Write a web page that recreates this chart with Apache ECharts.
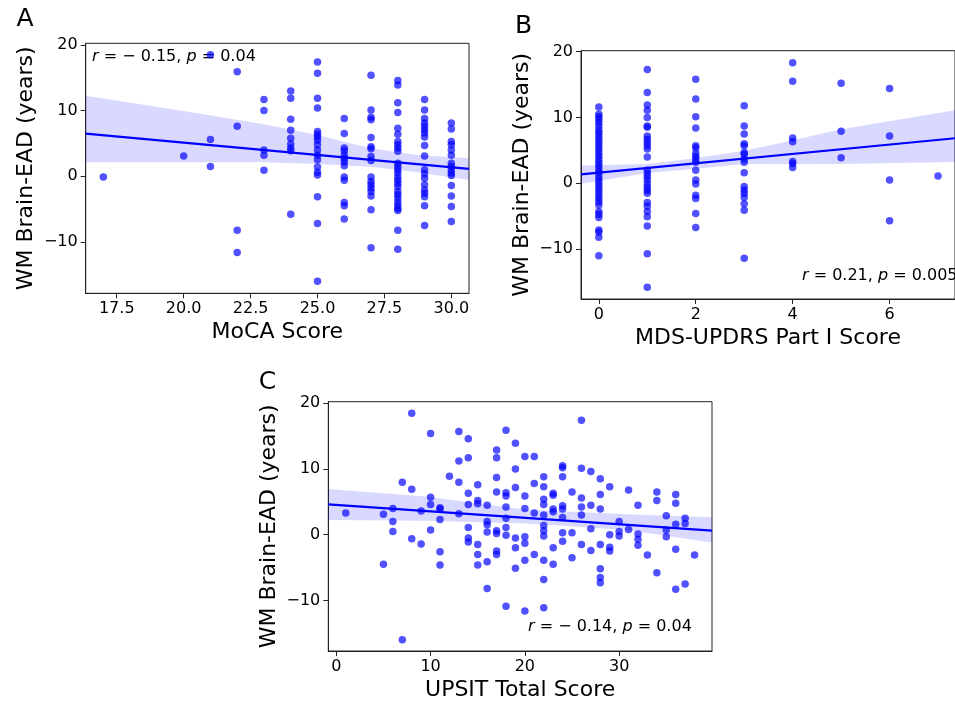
<!DOCTYPE html>
<html>
<head>
<meta charset="utf-8">
<script src="https://cdn.jsdelivr.net/npm/echarts@6/dist/echarts.min.js"></script>
<style>html,body{margin:0;padding:0;background:#fff;}#c{width:955px;height:702px;}</style>
</head>
<body>
<div id="c"></div>
<script>
// ---------- Panel A: MoCA ----------
const mocaX = [17, 20, 21,21,21, 22,22,22,22, 23,23,23,23,23,
  24,24,24,24,24,24,24,24,24,
  25,25,25,25,25,25,25,25,25,25,25,25,25,25,25,25,25,25,
  26,26,26,26,26,26,26,26,26,26,26,26,26,
  27,27,27,27,27,27,27,27,27,27,27,27,27,27,27,27,27,
  28,28,28,28,28,28,28,28,28,28,28,28,28,28,28,28,28,28,28,28,28,28,28,28,28,28,28,
  29,29,29,29,29,29,29,29,29,29,29,29,29,29,29,29,29,29,29,
  30,30,30,30,30,30,30,30,30,30,30,30,30,30,30,30,30];
const mocaY = [-0.1, 3.1, 18.5,5.6,1.5, 15.9,7.6,-8.2,-11.6, 11.7,10.0,4.0,3.2,0.9,
  13.0,11.9,8.7,7.0,5.8,4.9,4.3,3.9,-5.8,
  17.4,15.7,11.9,10.4,6.8,6.4,6.0,5.5,4.8,4.0,3.2,2.5,1.4,0.6,0.2,-3.1,-7.2,-16.0,
  8.8,6.5,4.3,3.9,3.2,2.7,2.2,1.6,-0.1,-0.6,-4.0,-4.5,-6.5,
  15.4,10.1,9.0,8.6,5.9,4.5,4.2,3.0,2.4,-0.1,-0.8,-1.3,-1.8,-2.3,-3.0,-5.1,-10.9,
  14.6,9.7,7.3,6.4,5.3,4.8,4.3,3.8,2.0,1.5,1.0,0.5,-0.1,-0.6,-1.1,-1.6,-2.3,-2.8,-3.3,-3.9,-4.4,-4.9,-5.2,-8.2,-11.1,
  13.9,11.2,8.8,8.1,7.6,7.1,6.6,6.0,4.7,3.1,1.0,0.4,-0.3,-1.3,-2.1,-2.6,-3.1,-4.5,-7.5,
  11.7,10.1,8.1,7.2,5.3,4.8,4.0,3.2,2.0,1.5,1.0,0.5,0.1,-1.4,-3.0,-4.6,-6.9];
const fitAX = [16.34, 30.66];
const fitAY = [6.5, 1.12];
const bandAX = [16.34, 20.0, 23.0, 25.0, 27.0, 28.73, 30.66];
const bandAUp = [12.27, 9.94, 7.91, 6.29, 4.26, 3.24, 2.73];
const bandALo = [2.13, 2.13, 2.13, 1.87, 1.46, 0.6, -0.56];
const ticksAX = [17.5, 20.0, 22.5, 25.0, 27.5, 30.0];
const ticksY = [-10, 0, 10, 20];

// ---------- Panel B: MDS-UPDRS Part I ----------
const updrsX = [
  0,0,0,0,0,0,0,0,0,0,0,0,0,0,0,0,0,0,0,0,0,0,0,0,0,0,0,0,0,0,0,0,0,0,0,0,0,
  1,1,1,1,1,1,1,1,1,1,1,1,1,1,1,1,1,1,1,1,1,1,1,1,1,1,1,1,
  2,2,2,2,2,2,2,2,2,2,2,2,2,2,2,2,2,
  3,3,3,3,3,3,3,3,3,3,3,3,3,3,3,3,3,
  4,4,4,4,4,4,4, 5,5,5, 6,6,6,6, 7];
const updrsY = [
  11.6,10.5,10.1,9.7,9.2,8.7,8.1,7.7,7.2,6.7,6.2,5.7,5.2,4.7,4.2,3.7,3.2,2.7,2.2,1.7,1.2,0.7,0.2,-0.3,-0.8,-1.3,-1.8,-2.3,-2.8,-3.3,-4.3,-4.7,-5.2,-7.1,-7.4,-8.2,-11.0,
  17.3,13.8,11.9,11.1,10.0,8.7,8.5,7.2,6.7,6.2,5.7,5.2,4.0,2.0,1.5,1.0,0.5,-0.1,-0.6,-1.1,-1.5,-2.9,-3.5,-4.3,-5.1,-6.5,-10.7,-15.8,
  15.8,12.8,10.1,8.4,5.7,5.4,4.6,4.1,3.7,3.2,2.0,0.5,-0.1,-1.8,-2.3,-4.6,-6.7,
  11.8,8.7,7.5,6.0,5.7,4.7,4.4,3.7,3.2,1.6,-0.5,-1.0,-1.5,-2.1,-3.1,-4.1,-11.4,
  18.3,15.5,6.9,6.3,3.3,3.0,2.4, 15.2,7.9,3.9, 14.4,7.2,0.5,-5.7, 1.1];
const fitBX = [-0.368, 7.35];
const fitBY = [1.35, 6.85];
const bandBX = [-0.368, 1, 2, 3, 4, 5, 7.35];
const bandBUp = [2.7, 2.95, 3.85, 4.95, 6.55, 8.2, 11.1];
const bandBLo = [-0.05, 1.55, 2.2, 2.95, 2.9, 2.95, 3.25];
const ticksBX = [0, 2, 4, 6];

// ---------- Panel C: UPSIT ----------
const upsitX = [1,5,5,6,6,6,7,7,8,8,8,9,9,10,10,10,10,11,11,11,11,11,12,13,13,13,13,
  14,14,14,14,14,14,14,15,15,15,15,15,15,16,16,16,16,16,16,17,17,17,17,17,17,17,17,
  18,18,18,18,18,18,18,18,19,19,19,19,19,19,20,20,20,20,20,20,20,21,21,21,21,
  22,22,22,22,22,22,22,22,22,22,22,23,23,23,23,23,23,24,24,24,24,24,24,24,24,
  25,25,25,26,26,26,26,26,26,27,27,27,27,28,28,28,28,28,28,28,29,29,29,29,
  30,30,30,31,31,32,32,32,32,33,34,34,34,35,35,35,36,36,36,36,36,37,37,37,38];
const upsitY = [3.3,3.1,-4.5,4.0,2.0,0.5,8.0,-16.0,18.5,6.9,-0.6,3.6,-1.4,15.4,5.7,4.6,0.7,4.1,3.9,2.3,-2.6,-4.6,8.9,15.7,11.2,8.0,3.2,
  14.6,11.7,6.3,4.6,1.1,-0.5,-1.1,7.6,5.2,4.7,-1.5,-3.0,-4.6,4.5,2.0,1.5,0.4,-4.1,-8.2,12.9,11.7,8.7,6.5,0.6,0.2,-2.5,-3.0,
  6.4,5.9,4.2,2.5,1.1,-0.1,-10.9,15.9,13.9,10.0,7.2,-0.5,-2.0,-5.1,11.9,5.9,4.0,-0.3,-1.3,-3.9,-11.6,11.9,7.8,3.3,-3.0,
  8.8,7.3,5.4,4.6,3.0,1.4,0.6,-0.2,-3.9,-6.8,-11.1,6.3,6.0,3.9,3.5,-2.0,-4.5,10.5,10.2,8.8,4.4,3.9,2.6,0.3,-1.0,
  6.5,0.3,-3.5,17.4,10.1,5.6,4.2,3.0,-1.5,9.6,4.5,0.9,-2.4,8.5,6.1,3.9,-1.5,-5.2,-6.5,-7.3,7.3,0.0,-1.9,-2.5,
  2.0,0.5,-0.2,6.8,0.8,4.5,0.1,-0.7,-1.6,-3.1,6.5,5.2,-5.8,2.9,0.7,-0.3,6.1,4.8,1.6,-2.2,-8.3,2.5,1.7,-7.5,-3.1];
const fitCX = [-0.85, 39.85];
const fitCY = [4.62, 0.61];
const bandCX = [-0.85, 9.5, 20.2, 30.8, 39.85];
const bandCUp = [6.96, 5.8, 3.8, 3.1, 2.65];
const bandCLo = [2.24, 2.13, 1.7, 0.72, -1.2];
const ticksCX = [0, 10, 20, 30];

const FONT = 'DejaVu Sans';
const DOT = 'rgba(0,0,255,0.85)';
const zip = (a, b) => a.map((v, i) => [v, b[i]]);
const minus = v => String(v).replace('-', '\u2212');

function grid(left, top, width, height) {
  return {left, top, width, height, show: true, borderColor: '#222', borderWidth: 1, backgroundColor: 'transparent'};
}
function xAxis(gi, min, max, ticks, name, gap, fmt) {
  return {
    type: 'value', gridIndex: gi, min, max,
    name, nameLocation: 'middle', nameGap: gap,
    nameTextStyle: {fontFamily: FONT, fontSize: 22, color: '#000'},
    axisLine: {show: true, onZero: false, lineStyle: {color: '#222', width: 1}},
    axisTick: {show: true, length: 5, lineStyle: {color: '#222'}, customValues: ticks},
    axisLabel: {show: true, margin: 8, fontFamily: FONT, fontSize: 16, color: '#000', customValues: ticks, formatter: fmt},
    splitLine: {show: false}
  };
}
function yAxis(gi, min, max, name, gap) {
  return {
    type: 'value', gridIndex: gi, min, max,
    name, nameLocation: 'middle', nameGap: gap,
    nameTextStyle: {fontFamily: FONT, fontSize: 22, color: '#000'},
    axisLine: {show: true, onZero: false, lineStyle: {color: '#222', width: 1}},
    axisTick: {show: true, length: 5, lineStyle: {color: '#222'}, customValues: ticksY},
    axisLabel: {show: true, margin: 8, fontFamily: FONT, fontSize: 16, color: '#000', customValues: ticksY, formatter: v => minus(v)},
    splitLine: {show: false}
  };
}
function scatter(gi, xs, ys) {
  return {type: 'scatter', xAxisIndex: gi, yAxisIndex: gi, data: zip(xs, ys), symbolSize: 7.5,
    itemStyle: {color: DOT}, silent: true, z: 2};
}
function band(gi, bx, up, lo) {
  return {
    type: 'custom', xAxisIndex: gi, yAxisIndex: gi, data: [[bx[0], lo[0]]], silent: true, z: 3,
    encode: {x: 0, y: 1}, clip: true,
    renderItem: (params, api) => {
      const pts = [];
      for (let i = 0; i < bx.length; i++) pts.push(api.coord([bx[i], up[i]]));
      for (let i = bx.length - 1; i >= 0; i--) pts.push(api.coord([bx[i], lo[i]]));
      return {type: 'polygon', shape: {points: pts}, style: {fill: 'rgba(0,0,255,0.15)'}};
    }
  };
}
function fit(gi, xs, ys) {
  return {type: 'line', xAxisIndex: gi, yAxisIndex: gi, data: zip(xs, ys), showSymbol: false, silent: true, z: 4,
    lineStyle: {color: '#0000ff', width: 2.2}};
}
function label(text, x, y, size, align) {
  return {type: 'text', x, y, silent: true, style: {text, fontFamily: FONT, fontSize: size, fill: '#000', align: align || 'center', verticalAlign: 'middle'}};
}
function stat(text, x, y) {
  return {type: 'text', x, y, silent: true, style: {text, fontFamily: FONT, fontSize: 16, fill: '#000', align: 'left', verticalAlign: 'middle',
    rich: {i: {fontFamily: FONT, fontSize: 16, fontStyle: 'italic', fill: '#000'}}}};
}

const chart = echarts.init(document.getElementById('c'), null, {renderer: 'canvas'});
chart.setOption({
  animation: false,
  backgroundColor: '#fff',
  grid: [grid(85.7, 43.3, 383.3, 250), grid(581, 50.7, 383.6, 248.3), grid(328.3, 401.7, 383.7, 249.3)],
  xAxis: [
    xAxis(0, 16.34, 30.66, ticksAX, 'MoCA Score', 28, v => v.toFixed(1)),
    xAxis(1, -0.368, 7.35, ticksBX, 'MDS-UPDRS Part I Score', 28, v => String(v)),
    xAxis(2, -0.85, 39.85, ticksCX, 'UPSIT Total Score', 28, v => String(v))
  ],
  yAxis: [
    yAxis(0, -17.82, 20.25, 'WM Brain-EAD (years)', 48),
    yAxis(1, -17.58, 20.15, 'WM Brain-EAD (years)', 48),
    yAxis(2, -17.7, 20.24, 'WM Brain-EAD (years)', 48)
  ],
  series: [
    scatter(0, mocaX, mocaY), band(0, bandAX, bandAUp, bandALo), fit(0, fitAX, fitAY),
    scatter(1, updrsX, updrsY), band(1, bandBX, bandBUp, bandBLo), fit(1, fitBX, fitBY),
    scatter(2, upsitX, upsitY), band(2, bandCX, bandCUp, bandCLo), fit(2, fitCX, fitCY)
  ],
  graphic: [
    label('A', 25, 19, 25), label('B', 523.5, 26.5, 25), label('C', 267.5, 382.5, 25),
    stat('{i|r} = \u2212 0.15, {i|p} = 0.04', 92, 57),
    stat('{i|r} = 0.21, {i|p} = 0.005', 802, 276),
    stat('{i|r} = \u2212 0.14, {i|p} = 0.04', 528, 627)
  ]
});
</script>
</body>
</html>
